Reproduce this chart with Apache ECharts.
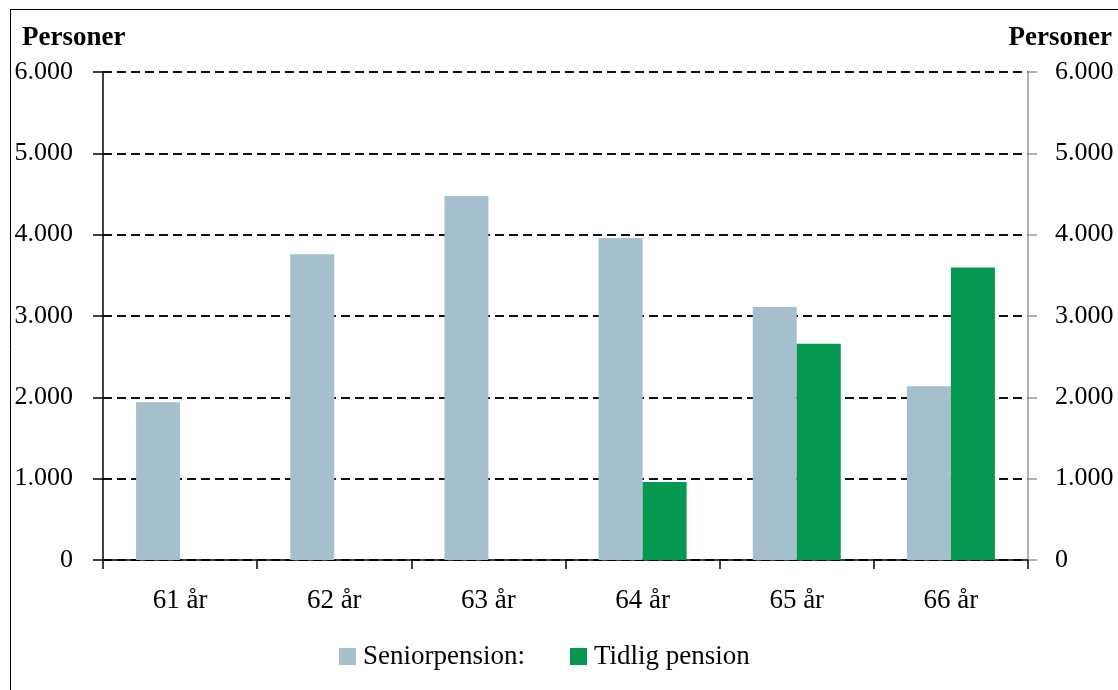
<!DOCTYPE html>
<html lang="da">
<head>
    <meta charset="UTF-8">
    <title>Seniorpension og tidlig pension</title>
    <script src="https://cdn.jsdelivr.net/npm/echarts@6/dist/echarts.min.js"></script>
    <style>
        html, body { margin: 0; padding: 0; background: #fff; }
        #chart { width: 1118px; height: 690px; }
    </style>
</head>
<body>
    <div id="chart"></div>

    <script>
        // data
        const categories = ['61 år', '62 år', '63 år', '64 år', '65 år', '66 år'];
        const seniorpension = [1940, 3760, 4475, 3960, 3110, 2135];
        const tidligPension = [null, null, null, 960, 2660, 3595];
        const seriesNames = ['Seniorpension:', 'Tidlig pension'];
        const axisName = 'Personer';
        const yMin = 0;
        const yMax = 6000;
        const yStep = 1000;

        const serif = 'Liberation Serif';

        // 6000 -> "6.000"
        function fmt(v) {
            return String(v).replace(/\B(?=(\d{3})+(?!\d))/g, '.');
        }

        const chart = echarts.init(document.getElementById('chart'));

        const option = {
            animation: false,
            textStyle: { fontFamily: serif, color: '#000' },
            grid: { left: 103, right: 90, top: 72, bottom: 130 },
            legend: {
                data: seriesNames,
                left: 334,
                top: 638,
                itemWidth: 17,
                itemHeight: 17,
                itemGap: 45,
                icon: 'rect',
                textStyle: { fontFamily: serif, fontSize: 27, color: '#000', padding: [0, 0, 0, 2] }
            },
            graphic: [
                // frame around the figure
                { type: 'line', shape: { x1: 10.5, y1: 9, x2: 10.5, y2: 690 }, style: { stroke: '#000', lineWidth: 1 } },
                { type: 'line', shape: { x1: 10, y1: 9.5, x2: 1118, y2: 9.5 }, style: { stroke: '#000', lineWidth: 1 } },
                // axis titles
                { type: 'text', left: 22, top: 25, style: { text: axisName, font: 'bold 27px "Liberation Serif"', fill: '#000' } },
                { type: 'text', right: 6, top: 25, style: { text: axisName, font: 'bold 27px "Liberation Serif"', fill: '#000' } }
            ],
            xAxis: {
                type: 'category',
                data: categories,
                axisLine: { lineStyle: { color: '#000', width: 1.5 } },
                axisTick: { show: true, length: 9, lineStyle: { color: '#000', width: 1.5 } },
                axisLabel: { fontFamily: serif, fontSize: 27, color: '#000', margin: 27 }
            },
            yAxis: [
                {
                    type: 'value',
                    min: yMin,
                    max: yMax,
                    interval: yStep,
                    axisLine: { show: true, lineStyle: { color: '#000', width: 1.5 } },
                    axisTick: { show: true, length: 10, lineStyle: { color: '#000', width: 1.5 } },
                    axisLabel: { fontFamily: serif, fontSize: 26, color: '#000', margin: 30, formatter: fmt },
                    splitLine: { show: true, lineStyle: { color: '#111', width: 1.8, type: [9, 5] } }
                },
                {
                    type: 'value',
                    position: 'right',
                    min: yMin,
                    max: yMax,
                    interval: yStep,
                    axisLine: { show: true, lineStyle: { color: '#999', width: 1.5 } },
                    axisTick: { show: true, length: 9, lineStyle: { color: '#999', width: 1.5 } },
                    axisLabel: { fontFamily: serif, fontSize: 26, color: '#000', margin: 27, formatter: fmt },
                    splitLine: { show: false }
                }
            ],
            series: [
                {
                    name: seriesNames[0],
                    type: 'bar',
                    data: seniorpension,
                    barWidth: 44,
                    barGap: '0%',
                    itemStyle: { color: '#A5BFCC' }
                },
                {
                    name: seriesNames[1],
                    type: 'bar',
                    data: tidligPension,
                    barWidth: 44,
                    barGap: '0%',
                    itemStyle: { color: '#049851' }
                }
            ]
        };

        chart.setOption(option);
    </script>
</body>
</html>
